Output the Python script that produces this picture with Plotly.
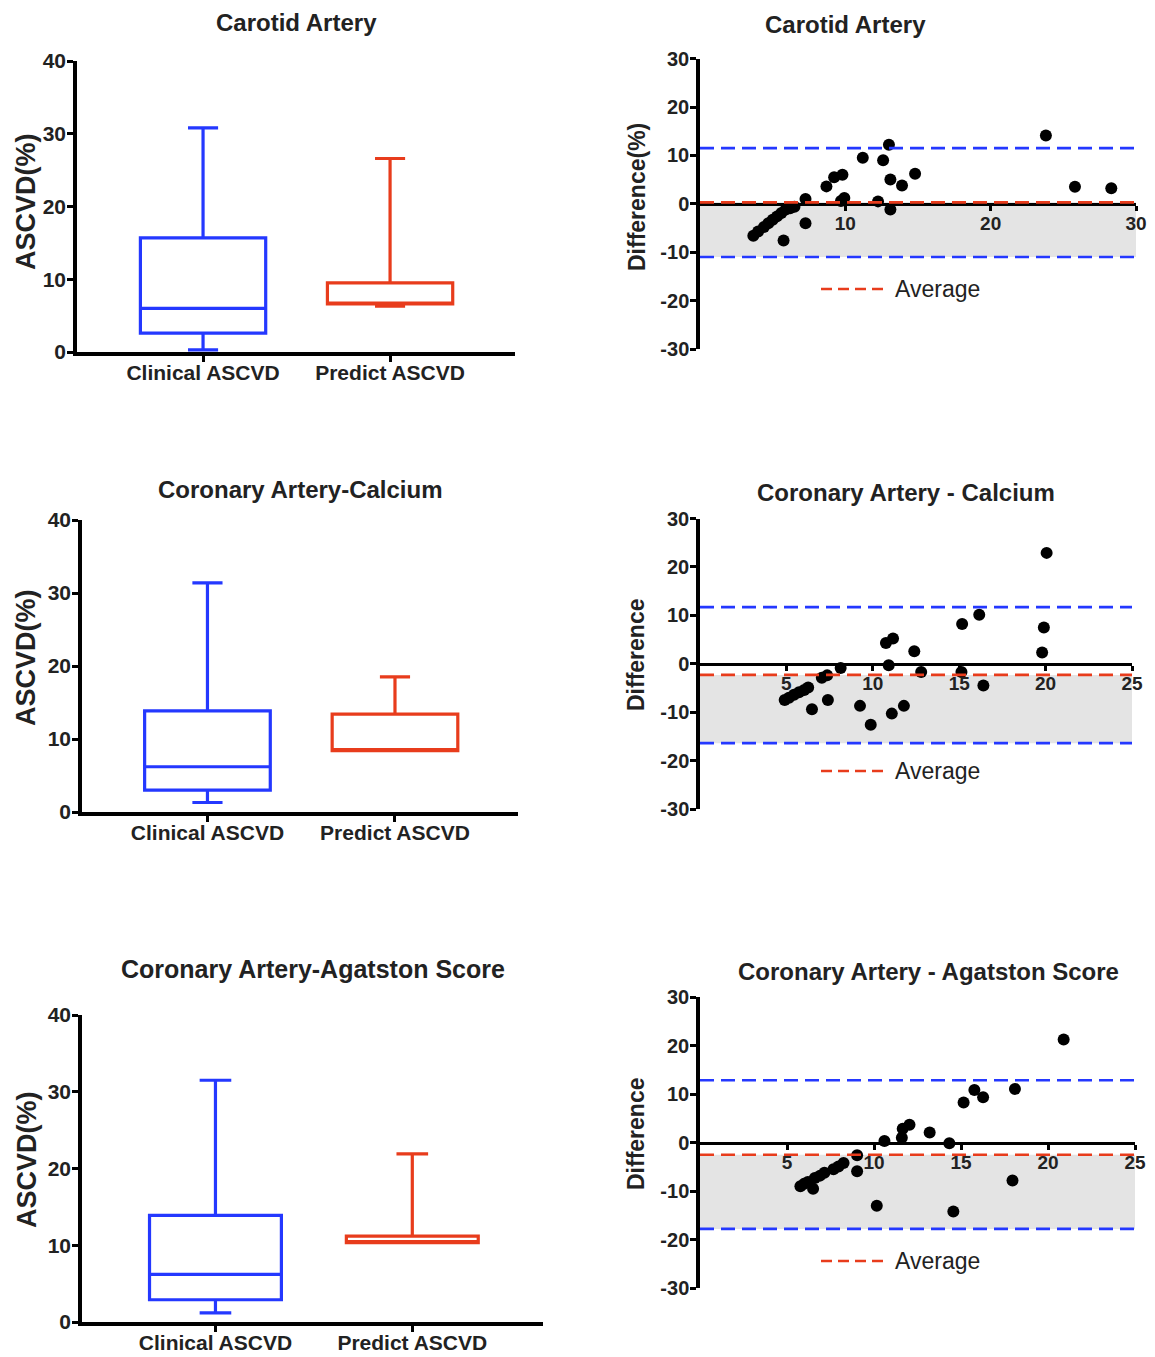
import plotly.graph_objects as go

W, H = 1155, 1357
FONT = "Liberation Sans, Arial, sans-serif"
BLUE = "#2438ff"
RED = "#e83c1c"
GRAY = "#e4e4e4"

# ---------------- data ----------------
categories = ["Clinical ASCVD", "Predict ASCVD"]

# Box statistics, order: [Clinical, Predict]
carotid_lower = [0.3, 6.3]
carotid_q1 = [2.6, 6.6]
carotid_median = [6.0, 6.6]
carotid_q3 = [15.7, 9.5]
carotid_upper = [30.8, 26.6]

calcium_lower = [1.3, 8.4]
calcium_q1 = [3.0, 8.4]
calcium_median = [6.2, 8.4]
calcium_q3 = [13.85, 13.4]
calcium_upper = [31.4, 18.5]

agatston_lower = [1.2, 10.35]
agatston_q1 = [2.9, 10.35]
agatston_median = [6.2, 10.35]
agatston_q3 = [13.9, 11.2]
agatston_upper = [31.5, 21.9]

# Bland-Altman: mean (x) and difference (y)
carotid_ba_mean = [3.67, 4.0, 4.4, 4.7, 5.0, 5.3, 5.6, 5.9, 6.2, 6.5, 5.75, 7.26, 7.26,
                   8.7, 9.23, 9.8, 9.7, 9.93, 11.2, 12.25, 12.6, 13.0, 13.1, 13.1, 13.9,
                   14.8, 23.8, 25.8, 28.3]
carotid_ba_diff = [-6.6, -5.7, -4.8, -4.0, -3.3, -2.6, -1.9, -1.2, -0.9, -0.6, -7.6, 1.0, -4.0,
                   3.6, 5.5, 6.0, 0.6, 1.2, 9.5, 0.5, 9.0, 12.2, 5.0, -1.2, 3.8,
                   6.2, 14.1, 3.5, 3.2]
carotid_bias = 0.3
carotid_loa = [11.5, -11.0]

calcium_ba_mean = [4.9, 5.15, 5.44, 5.73, 6.03, 6.26, 6.48, 7.05, 7.36, 7.4, 8.14, 9.26,
                   9.88, 10.76, 11.17, 10.92, 11.1, 11.8, 12.4, 12.8, 15.17, 15.13, 16.16,
                   16.4, 20.06, 19.9, 19.8]
calcium_ba_diff = [-7.5, -7.0, -6.4, -5.9, -5.4, -4.9, -9.4, -2.9, -2.4, -7.5, -0.9, -8.7,
                   -12.6, 4.3, 5.2, -0.3, -10.3, -8.7, 2.6, -1.7, 8.2, -1.7, 10.1,
                   -4.5, 22.9, 7.5, 2.3]
calcium_bias = -2.3
calcium_loa = [11.7, -16.4]

agatston_ba_mean = [5.77, 5.98, 6.2, 6.5, 6.6, 6.9, 7.15, 7.67, 7.96, 8.25, 9.03, 9.03,
                    10.16, 10.6, 11.6, 11.65, 12.04, 13.2, 14.33, 14.56, 15.15, 15.77,
                    16.27, 18.1, 17.96, 20.9]
agatston_ba_diff = [-9.0, -8.5, -8.1, -9.5, -7.3, -6.8, -6.2, -5.5, -4.9, -4.2, -2.6, -5.9,
                    -13.0, 0.35, 1.0, 2.9, 3.7, 2.1, -0.1, -14.2, 8.3, 10.9,
                    9.4, 11.1, -7.8, 21.3]
agatston_bias = -2.5
agatston_loa = [12.9, -17.8]

box_titles = ["Carotid Artery", "Coronary Artery-Calcium", "Coronary Artery-Agatston Score"]
ba_titles = ["Carotid Artery", "Coronary Artery - Calcium", "Coronary Artery - Agatston Score"]
ba_ytitles = ["Difference(%)", "Difference", "Difference"]
box_yticks = [0, 10, 20, 30, 40]
ba_yticks = [-30, -20, -10, 0, 10, 20, 30]
ba_yticklabels = ["-30", "-20", "-10", "0", "10", "20", "30"]
ba_xticks = [[10, 20, 30], [5, 10, 15, 20, 25], [5, 10, 15, 20, 25]]
ba_xmax = [30, 25, 25]

# ---------------- layout geometry (pixels) ----------------
box_geom = [  # x0, x1, ytop, ybottom, category range
    (77, 515, 61, 352, [-0.674, 1.668]),
    (82, 518, 520, 812, [-0.669, 1.656]),
    (82, 543, 1015, 1322, [-0.678, 1.664]),
]
ba_geom = [
    (700, 1136, 58.6, 349),
    (700, 1132, 518.5, 809),
    (700, 1135, 997.4, 1288),
]
box_title_pos = [(296, 22), (300, 489), (313, 969)]
ba_title_pos = [(845, 24), (906, 492), (928, 971)]
box_ytitle_pos = [(26, 202), (26, 658), (27, 1160)]
ba_ytitle_pos = [(637, 197), (636, 655), (636, 1134)]
legend_y = [289, 771, 1261]


def xd(a, b):
    return [a / W, b / W]


def yd(top, bottom):
    return [1 - bottom / H, 1 - top / H]


fig = go.Figure()
layout = dict(
    width=W, height=H, margin=dict(l=0, r=0, t=0, b=0, pad=0, autoexpand=False),
    paper_bgcolor="white", plot_bgcolor="white", showlegend=False,
    font=dict(family=FONT, color="black"),
)
shapes = []
annotations = []

box_sets = [
    (carotid_lower, carotid_q1, carotid_median, carotid_q3, carotid_upper),
    (calcium_lower, calcium_q1, calcium_median, calcium_q3, calcium_upper),
    (agatston_lower, agatston_q1, agatston_median, agatston_q3, agatston_upper),
]
ba_sets = [
    (carotid_ba_mean, carotid_ba_diff, carotid_bias, carotid_loa),
    (calcium_ba_mean, calcium_ba_diff, calcium_bias, calcium_loa),
    (agatston_ba_mean, agatston_ba_diff, agatston_bias, agatston_loa),
]

for i in range(3):
    # ----- box panels -----
    n = 2 * i + 1
    xs = "x" if n == 1 else f"x{n}"
    ys = "y" if n == 1 else f"y{n}"
    x0, x1, yt, yb, crange = box_geom[i]
    lo, q1, med, q3, up = box_sets[i]
    for j, col in enumerate([BLUE, RED]):
        fig.add_trace(go.Box(
            x=[categories[j]], lowerfence=[lo[j]], q1=[q1[j]], median=[med[j]],
            q3=[q3[j]], upperfence=[up[j]], width=0.67, whiskerwidth=0.24,
            fillcolor="white", line=dict(color=col, width=3.2), boxpoints=False,
            xaxis=xs, yaxis=ys, hoverinfo="skip"))
    xk = "xaxis" if n == 1 else f"xaxis{n}"
    yk = "yaxis" if n == 1 else f"yaxis{n}"
    layout[xk] = dict(domain=xd(x0, x1), anchor=ys, type="category", automargin=False,
                      categoryorder="array", categoryarray=categories, range=crange,
                      showline=True, linecolor="black", linewidth=3.5, ticks="outside",
                      ticklen=6, tickwidth=3, tickcolor="black", showgrid=False,
                      zeroline=False, ticklabelstandoff=-7,
                      tickfont=dict(size=21, family=FONT, weight="bold", color="#222"))
    layout[yk] = dict(domain=yd(yt, yb), anchor=xs, range=[0, 40], tickvals=box_yticks,
                      automargin=False, ticklabelstandoff=-3,
                      showline=True, linecolor="black", linewidth=3.5, ticks="outside",
                      ticklen=6, tickwidth=3, tickcolor="black", showgrid=False,
                      zeroline=False,
                      tickfont=dict(size=21, family=FONT, weight="bold", color="#222"))
    tx, ty = box_title_pos[i]
    annotations.append(dict(text=box_titles[i], x=tx / W, y=1 - ty / H, xref="paper",
                            yref="paper", showarrow=False, xanchor="center", yanchor="middle",
                            font=dict(size=24 if i < 2 else 25, family=FONT, weight="bold",
                                      color="#222")))
    ax, ay = box_ytitle_pos[i]
    annotations.append(dict(text="ASCVD(%)", x=ax / W, y=1 - ay / H, xref="paper",
                            yref="paper", showarrow=False, textangle=-90,
                            xanchor="center", yanchor="middle",
                            font=dict(size=27, family=FONT, weight="bold", color="#222")))

    # ----- Bland-Altman panels -----
    m = 2 * i + 2
    xs = f"x{m}"
    ys = f"y{m}"
    bx0, bx1, byt, byb = ba_geom[i]
    bmean, bdiff, bias, loa = ba_sets[i]
    ydom = yd(byt, byb)
    fig.add_trace(go.Scatter(
        x=bmean, y=bdiff, mode="markers",
        marker=dict(color="black", size=12, line=dict(width=0)),
        xaxis=xs, yaxis=ys, hoverinfo="skip", cliponaxis=False))
    layout[f"xaxis{m}"] = dict(domain=xd(bx0, bx1), anchor="free", automargin=False,
                               position=(ydom[0] + ydom[1]) / 2, range=[0, ba_xmax[i]],
                               tickvals=ba_xticks[i], showline=True, linecolor="black",
                               linewidth=3, ticks="outside", ticklen=5, tickwidth=2.5,
                               tickcolor="black", showgrid=False, zeroline=False,
                               ticklabelstandoff=-4,
                               tickfont=dict(size=19, family=FONT, weight="bold",
                                             color="#222"))
    layout[f"yaxis{m}"] = dict(domain=ydom, anchor=xs, range=[-30, 30], tickvals=ba_yticks,
                               ticktext=ba_yticklabels,
                               automargin=False, ticklabelstandoff=-3,
                               showline=True, linecolor="black", linewidth=3.5,
                               ticks="outside", ticklen=6, tickwidth=3, tickcolor="black",
                               showgrid=False, zeroline=False,
                               tickfont=dict(size=20, family=FONT, weight="bold",
                                             color="#222"))
    xr = f"x{m} domain"
    # shaded band between average and lower limit of agreement
    shapes.append(dict(type="rect", xref=xr, yref=ys, x0=0, x1=1, y0=bias, y1=loa[1],
                       fillcolor=GRAY, line=dict(width=0), layer="below"))
    for v in loa:
        shapes.append(dict(type="line", xref=xr, yref=ys, x0=0, x1=1, y0=v, y1=v,
                           line=dict(color=BLUE, width=2.6, dash="14px,7px")))
    shapes.append(dict(type="line", xref=xr, yref=ys, x0=0, x1=1, y0=bias, y1=bias,
                       line=dict(color=RED, width=2.6, dash="14px,7px")))
    # legend sample
    ly = 1 - legend_y[i] / H
    shapes.append(dict(type="line", xref="paper", yref="paper", x0=821 / W, x1=884 / W,
                       y0=ly, y1=ly, line=dict(color=RED, width=2.6, dash="11px,6px")))
    annotations.append(dict(text="Average", x=893 / W, y=ly, xref="paper", yref="paper",
                            showarrow=False, xanchor="left", yanchor="middle",
                            font=dict(size=23, family=FONT, color="#222")))
    tx, ty = ba_title_pos[i]
    annotations.append(dict(text=ba_titles[i], x=tx / W, y=1 - ty / H, xref="paper",
                            yref="paper", showarrow=False, xanchor="center", yanchor="middle",
                            font=dict(size=24, family=FONT, weight="bold", color="#222")))
    ax, ay = ba_ytitle_pos[i]
    annotations.append(dict(text=ba_ytitles[i], x=ax / W, y=1 - ay / H, xref="paper",
                            yref="paper", showarrow=False, textangle=-90,
                            xanchor="center", yanchor="middle",
                            font=dict(size=23, family=FONT, weight="bold", color="#222")))

layout["shapes"] = shapes
layout["annotations"] = annotations
fig.update_layout(**layout)
fig.write_html("out.html", config={"displayModeBar": False},
               post_script="document.body.style.margin='0px';"
                           "document.body.style.overflow='hidden';")
